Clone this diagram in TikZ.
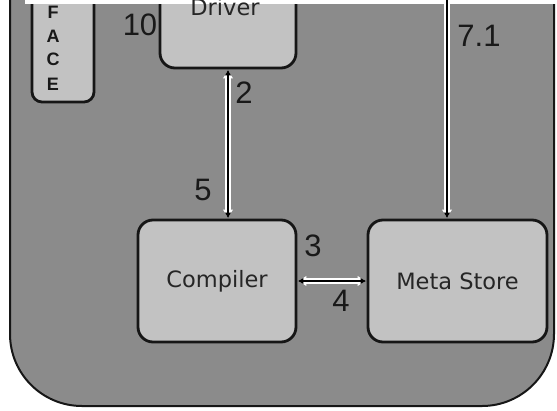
\documentclass[tikz,border=0pt]{standalone}
\usepackage{fontspec}
\setmainfont{Liberation Sans}
\newfontfamily\boxfont{DejaVu Sans}
\usetikzlibrary{arrows.meta}
\definecolor{outergray}{RGB}{139,139,139}
\definecolor{boxgray}{RGB}{194,194,194}
\definecolor{edgecol}{RGB}{22,22,22}
\begin{document}
\begin{tikzpicture}[x=1pt,y=-1pt,
  container/.style={draw=edgecol, line width=2pt, fill=outergray, rounded corners=72pt},
  compbox/.style={draw=edgecol, line width=2.8pt, fill=boxgray, rounded corners=15pt, inner sep=0pt},
  ifacebox/.style={draw=edgecol, line width=2.8pt, fill=boxgray, rounded corners=10pt, inner sep=0pt},
  boxtext/.style={font=\boxfont\fontsize{22.5}{26}\selectfont, text=black!85, inner sep=0pt},
  ifaceletter/.style={font=\bfseries\fontsize{18}{20}\selectfont, text=black!90, inner sep=0pt},
  numlabel/.style={font=\fontsize{31}{35}\selectfont, text=black!90, inner sep=0pt},
  halo/.style={draw=white, line width=6pt},
  core/.style={draw=black, line width=2.4pt},
  halotip/.style={-{Latex[length=9pt,width=11pt]}},
  haloboth/.style={{Latex[length=9pt,width=11pt]}-{Latex[length=9pt,width=11pt]}},
  coretip/.style={-{Latex[length=6pt,width=6.5pt]}},
  coreboth/.style={{Latex[length=6pt,width=6.5pt]}-{Latex[length=6pt,width=6.5pt]}},
]
\useasboundingbox (0,0) rectangle (557,410);
\fill[white] (0,0) rectangle (557,410);

% outer container
\path[container] (10,-100) rectangle (554,406);

% boxes
\node[ifacebox, minimum width=62pt, minimum height=160pt] (iface) at (63,22) {};
\node[compbox, minimum width=136pt, minimum height=160pt] (driver) at (228,-12) {};
\node[compbox, minimum width=158pt, minimum height=122pt] (compiler) at (217,281) {};
\node[compbox, minimum width=179pt, minimum height=122pt] (meta) at (457.5,281) {};

% top white strip
\fill[white] (25,0) rectangle (557,4);

% box texts
\node[boxtext, anchor=base] (drivertext) at (225,15) {Driver};
\node[boxtext] (compilertext) at (compiler.center) {Compiler};
\node[boxtext] (metatext) at (meta.center) {Meta Store};
\node[ifaceletter] (lf) at (53,12) {F};
\node[ifaceletter] (la) at (53,36) {A};
\node[ifaceletter] (lc) at (53,59) {C};
\node[ifaceletter] (le) at (53,84) {E};

% connectors
\coordinate (top71) at (447,-10);
\draw[halo, haloboth] (driver.south) -- (driver.south |- compiler.north);
\draw[core, coreboth] (driver.south) -- (driver.south |- compiler.north);
\draw[halo, haloboth] (compiler.east) -- (meta.west);
\draw[core, coreboth] (compiler.east) -- (meta.west);
\draw[halo, halotip] (top71) -- (top71 |- meta.north);
\draw[core, coretip] (top71) -- (top71 |- meta.north);

% labels
\node[numlabel] (l10) at (140,25) {10};
\node[numlabel] (l2) at (244,93) {2};
\node[numlabel] (l5) at (203,190) {5};
\node[numlabel] (l3) at (313,246) {3};
\node[numlabel] (l4) at (341,301) {4};
\node[numlabel] (l71) at (479,36) {7.1};
\end{tikzpicture}
\end{document}
